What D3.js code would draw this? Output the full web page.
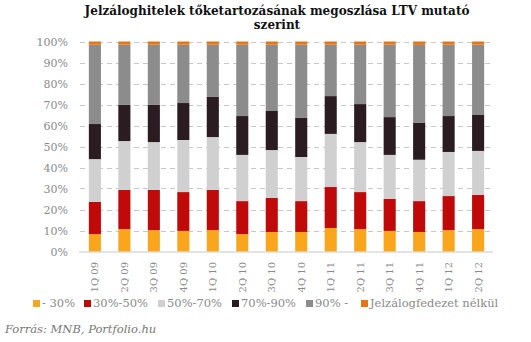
<!DOCTYPE html>
<html><head><meta charset="utf-8">
<script src="https://cdn.jsdelivr.net/npm/d3@7"></script>
<style>body{margin:0;background:#fff}svg{display:block}</style>
</head><body>
<script>
const categories = ["1Q 09","2Q 09","3Q 09","4Q 09","1Q 10","2Q 10","3Q 10","4Q 10","1Q 11","2Q 11","3Q 11","4Q 11","1Q 12","2Q 12"];
const seriesNames = ["- 30%","30%-50%","50%-70%","70%-90%","90% -","Jelzálogfedezet nélkül"];
const s30   = [8.3,10.7,10.2,9.8,10.2,8.3,9.3,9.3,11.2,10.7,9.8,9.3,10.2,10.7];
const s3050 = [15.3,18.6,19.1,18.5,19.1,15.7,16.2,14.7,19.5,17.6,15.2,14.7,16.2,16.2];
const s5070 = [20.4,23.3,22.8,24.8,25.2,22.0,22.8,21.0,25.3,23.8,21.0,19.7,21.0,21.0];
const s7090 = [16.7,17.2,17.7,17.6,19.1,18.5,18.6,18.6,18.0,18.1,18.0,17.7,17.1,17.1];
const s90   = [37.8,28.7,28.7,27.8,24.9,34.0,31.6,34.9,24.5,28.3,34.5,37.0,34.0,33.5];
const sNone = [1.5,1.5,1.5,1.5,1.5,1.5,1.5,1.5,1.5,1.5,1.5,1.6,1.5,1.5];
const yTicks = [0,10,20,30,40,50,60,70,80,90,100];
const colors = ["#F9A61D","#C00A0A","#D0D0D0","#2B1C22","#8C8C8C","#E87511"];
const allSeries = [s30,s3050,s5070,s7090,s90,sNone];

const W=531,H=342;
const svg=d3.select("body").append("svg").attr("width",W).attr("height",H);
const font="Georgia, 'DejaVu Serif', serif";
const tc="#8a8a8a";

// title
svg.append("text").attr("x",277).attr("y",15).attr("text-anchor","middle")
  .attr("font-family",font).attr("font-weight","bold").attr("font-size",12).attr("fill","#111")
  .text("Jelzáloghitelek tőketartozásának megoszlása LTV mutató");
svg.append("text").attr("x",277).attr("y",29).attr("text-anchor","middle")
  .attr("font-family",font).attr("font-weight","bold").attr("font-size",12).attr("fill","#111")
  .text("szerint");

const x=d3.scaleBand().domain(categories).range([80,493]).paddingInner(0.59).paddingOuter(0.3);
const y=d3.scaleLinear().domain([0,100]).range([251.5,41.5]);

// grid
svg.append("g").selectAll("line").data(yTicks.filter(t=>t>0)).join("line")
  .attr("x1",80).attr("x2",491).attr("y1",d=>Math.round(y(d))+0.5).attr("y2",d=>Math.round(y(d))+0.5)
  .attr("stroke","#c8c8c8").attr("stroke-width",1).attr("stroke-dasharray","5,4");

// stacks
const table=categories.map((c,i)=>{const o={cat:c};seriesNames.forEach((n,j)=>o[n]=allSeries[j][i]);return o;});
const stack=d3.stack().keys(seriesNames)(table);
svg.append("g").selectAll("g").data(stack).join("g").attr("fill",(d,i)=>colors[i])
  .selectAll("rect").data(d=>d).join("rect")
  .attr("x",d=>x(d.data.cat)).attr("width",x.bandwidth())
  .attr("y",d=>y(Math.min(d[1],100))).attr("height",d=>y(d[0])-y(Math.min(d[1],100)));

// axis line
svg.append("line").attr("x1",79).attr("x2",493).attr("y1",252).attr("y2",252).attr("stroke","#c8c8c8").attr("stroke-width",1);

// y labels
const yAxis=d3.axisLeft(y).tickValues(yTicks).tickFormat(d=>d+"%").tickSize(0).tickPadding(0);
const ga=svg.append("g").attr("transform","translate(68,0)").call(yAxis);
ga.select(".domain").remove();
ga.selectAll("text").attr("font-family",font).attr("font-size",11).attr("fill",tc).attr("dy","0.35em");

// x labels
const xAxis=d3.axisBottom(x).tickSize(0).tickPadding(0);
const gx=svg.append("g").attr("transform","translate(0,262)").call(xAxis);
gx.select(".domain").remove();
gx.selectAll("text").attr("font-family",font).attr("font-size",10).attr("fill",tc)
  .attr("transform","rotate(-90)").attr("text-anchor","end").attr("x",0).attr("y",0).attr("dy","0.35em");

// legend
const legX=[33,84,158,232,306,361];
const lg=svg.append("g").selectAll("g").data(seriesNames).join("g").attr("transform",(d,i)=>`translate(${legX[i]},300)`);
lg.append("rect").attr("width",7).attr("height",7).attr("fill",(d,i)=>colors[i]);
lg.append("text").attr("x",9).attr("y",7).attr("font-family",font).attr("font-size",11.5).attr("fill",tc).text(d=>d);

// source
svg.append("text").attr("x",5).attr("y",333).attr("font-family",font).attr("font-style","italic").attr("font-size",11.5).attr("fill","#777")
  .text("Forrás: MNB, Portfolio.hu");
</script>
</body></html>
